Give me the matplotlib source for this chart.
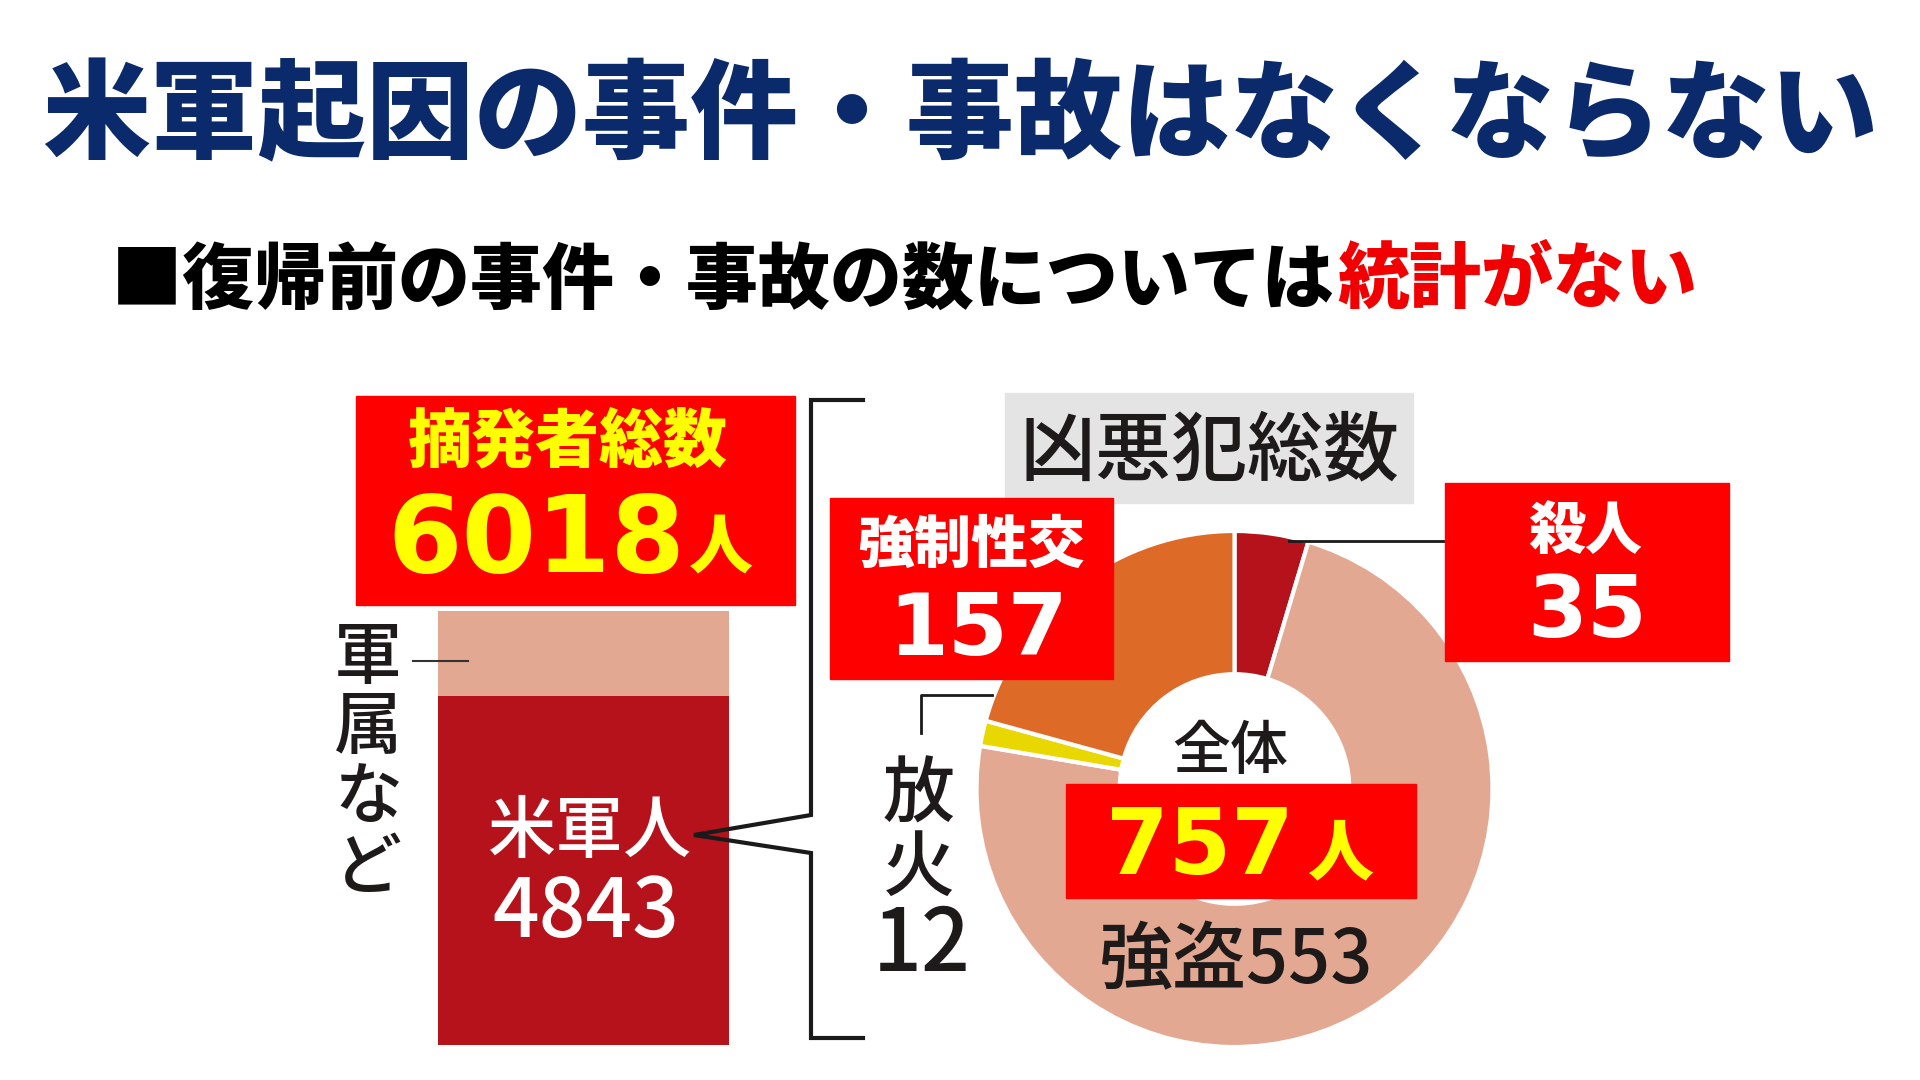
import matplotlib
matplotlib.use("Agg")
import matplotlib.pyplot as plt
from matplotlib.patches import Rectangle

plt.rcParams['font.family'] = ['Noto Sans CJK JP', 'DejaVu Sans']

# data
title = "米軍起因の事件・事故はなくならない"
subtitle_black = "■復帰前の事件・事故の数については"
subtitle_red = "統計がない"

bar_labels = ["米軍人", "軍属など"]
bar_values = [4843, 1175]            # total 6018
crime_labels = ["殺人", "強盗", "放火", "強制性交"]
crime_values = [35, 553, 12, 157]    # total 757

NAVY = "#0b2a6b"
RED = "#fe0000"
YELLOW = "#ffff00"
DARK = "#b5121b"
LIGHT = "#e3a892"
crime_colors = [DARK, LIGHT, "#e8d800", "#de6a27"]
INK = "#1e1a1a"


def pt(px):
    # pixel height -> points at dpi 100
    return px * 0.72


fig = plt.figure(figsize=(19.2, 10.8), dpi=100)
fig.patch.set_facecolor("white")

# stacked bar
total = sum(bar_values)
bax = fig.add_axes([438 / 1920, (1080 - 1045) / 1080, 291 / 1920, (1045 - 611) / 1080])
bax.bar(0, bar_values[0], width=1, color=DARK, linewidth=0)
bax.bar(0, bar_values[1], bottom=bar_values[0], width=1, color=LIGHT, linewidth=0)
bax.set_xlim(-0.5, 0.5)
bax.set_ylim(0, total)
bax.axis("off")

# donut
crime_total = sum(crime_values)
pax = fig.add_axes([(1234.5 - 258) / 1920, (1080 - 789 - 258) / 1080, 516 / 1920, 516 / 1080])
pax.pie(crime_values, colors=crime_colors, startangle=90, counterclock=False, radius=1,
        wedgeprops=dict(width=0.555, edgecolor="white", linewidth=3))
pax.set_xlim(-1, 1)
pax.set_ylim(-1, 1)
pax.set_aspect("equal")
pax.axis("off")

# overlay in pixel coordinates for boxes and text
ov = fig.add_axes([0, 0, 1, 1])
ov.set_xlim(0, 1920)
ov.set_ylim(1080, 0)
ov.axis("off")

ov.text(960, 118, title, ha="center", va="center", fontsize=pt(108),
        color=NAVY, fontweight="black")
ov.text(1335, 281, subtitle_black, ha="right", va="center", fontsize=pt(72),
        color="black", fontweight="black")
ov.text(1337, 281, subtitle_red, ha="left", va="center", fontsize=pt(72),
        color="#f00000", fontweight="black")

# total box
ov.add_patch(Rectangle((356, 396), 439, 209, color=RED, zorder=2))
ov.text(568, 443, "摘発者総数", ha="center", va="center", fontsize=pt(64),
        color=YELLOW, fontweight="black", zorder=3)
ov.text(536, 543, f"{total}", ha="center", va="center", fontsize=pt(107),
        color=YELLOW, fontweight="bold", family=["DejaVu Sans"], zorder=3)
ov.text(720, 550, "人", ha="center", va="center", fontsize=pt(64),
        color=YELLOW, fontweight="black", zorder=3)

# 軍属など vertical label
for i, ch in enumerate(bar_labels[1]):
    ov.text(368, 659 + i * 70, ch, ha="center", va="center", fontsize=pt(68),
            color=INK, fontweight="medium")
ov.plot([413, 468], [661, 661], color="#333333", lw=1.5)

# 米軍人 label in bar
ov.text(590, 832, bar_labels[0], ha="center", va="center", fontsize=pt(68),
        color="white", fontweight="medium")
ov.text(586, 914, f"{bar_values[0]}", ha="center", va="center", fontsize=pt(82),
        color="white", fontweight="medium")

# bracket
ov.plot([863, 811, 811, 694, 811, 811, 863],
        [400, 400, 815, 835, 853, 1038, 1038], color="#1a1a1a", lw=3,
        solid_joinstyle="miter")

# 凶悪犯総数 box
ov.add_patch(Rectangle((1005, 393), 408, 110, color="#e4e4e4", zorder=1))
ov.text(1209, 452, "凶悪犯総数", ha="center", va="center", fontsize=pt(76),
        color=INK, fontweight="medium", zorder=2)

# 強制性交 box
ov.add_patch(Rectangle((830, 498), 283, 181, color=RED, zorder=2))
ov.text(971, 546, crime_labels[3], ha="center", va="center", fontsize=pt(57),
        color="white", fontweight="black", zorder=3)
ov.text(978, 632, f"{crime_values[3]}", ha="center", va="center", fontsize=pt(86),
        color="white", fontweight="bold", family=["DejaVu Sans"], zorder=3)

# 殺人 box
ov.plot([1289, 1445], [541, 541], color="#1a1a1a", lw=2)
ov.add_patch(Rectangle((1445, 483), 284, 178, color=RED, zorder=2))
ov.text(1585, 532, crime_labels[0], ha="center", va="center", fontsize=pt(57),
        color="white", fontweight="black", zorder=3)
ov.text(1587, 614, f"{crime_values[0]}", ha="center", va="center", fontsize=pt(86),
        color="white", fontweight="bold", family=["DejaVu Sans"], zorder=3)

# 放火 label
ov.plot([992, 921, 921], [695, 695, 733], color="#1a1a1a", lw=2)
ov.text(919, 796, crime_labels[2][0], ha="center", va="center", fontsize=pt(72),
        color=INK, fontweight="medium")
ov.text(919, 869, crime_labels[2][1], ha="center", va="center", fontsize=pt(72),
        color=INK, fontweight="medium")
ov.text(922, 946, f"{crime_values[2]}", ha="center", va="center", fontsize=pt(86),
        color=INK, fontweight="medium")

# centre
ov.text(1230, 753, "全体", ha="center", va="center", fontsize=pt(58),
        color=INK, fontweight="medium")
ov.add_patch(Rectangle((1066, 784), 350, 114, color=RED, zorder=2))
ov.text(1200, 849, f"{crime_total}", ha="center", va="center", fontsize=pt(90),
        color=YELLOW, fontweight="bold", family=["DejaVu Sans"], zorder=3)
ov.text(1340, 855, "人", ha="center", va="center", fontsize=pt(66),
        color=YELLOW, fontweight="black", zorder=3)

# 強盗 label
ov.text(1236, 962, f"{crime_labels[1]}{crime_values[1]}", ha="center", va="center",
        fontsize=pt(74), color=INK, fontweight="medium")

fig.savefig("out.png", dpi=100)
